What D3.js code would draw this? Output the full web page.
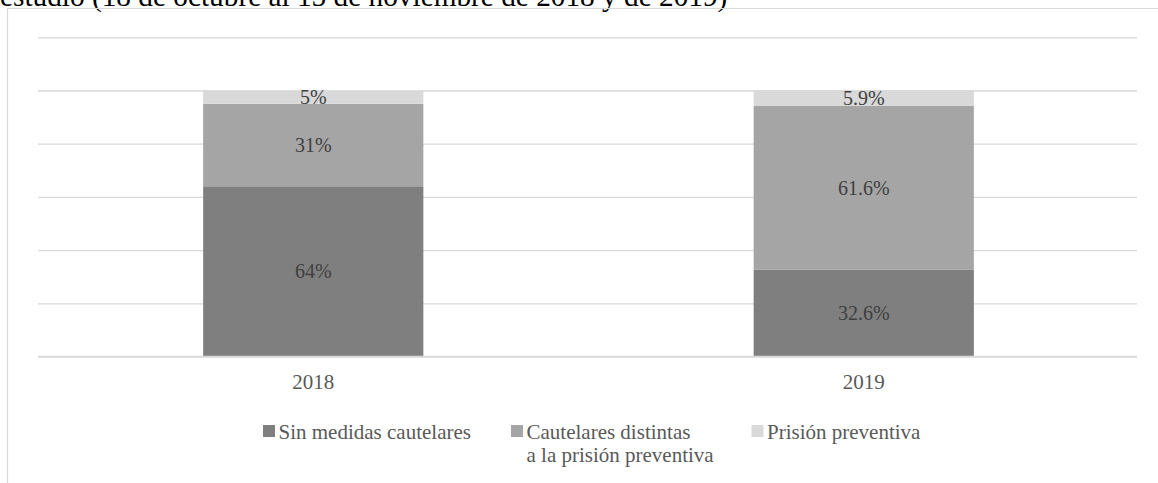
<!DOCTYPE html>
<html>
<head>
<meta charset="utf-8">
<script src="https://cdn.jsdelivr.net/npm/d3@7"></script>
<style>
  html, body { margin: 0; padding: 0; background: #fff; }
  svg { display: block; font-family: "Liberation Serif", "Times New Roman", serif; }
</style>
</head>
<body>
<svg id="chart" width="1158" height="483"></svg>
<script>
// Chart data
const years = ["2018", "2019"];
const seriesNames = ["Sin medidas cautelares", "Cautelares distintas a la prisión preventiva", "Prisión preventiva"];
const sinMedidas = [64, 32.6];
const cautelaresDistintas = [31, 61.6];
const prisionPreventiva = [5, 5.9];
const labelSin = ["64%", "32.6%"];
const labelCautelares = ["31%", "61.6%"];
const labelPrision = ["5%", "5.9%"];
const yTicks = [0, 20, 40, 60, 80, 100, 120];
const titleText = "estudio (18 de octubre al 15 de noviembre de 2018 y de 2019)";

const colors = ["#7f7f7f", "#a5a5a5", "#d9d9d9"];

const svg = d3.select("#chart");

// Title line (runs above the top of the frame)
svg.append("text")
  .attr("x", 0).attr("y", 5.5)
  .attr("font-size", 29.3)
  .attr("fill", "#000")
  .text(titleText);

// Chart frame
svg.append("line").attr("x1", 7.5).attr("x2", 1158).attr("y1", 8.5).attr("y2", 8.5)
  .attr("stroke", "#d9d9d9").attr("stroke-width", 1.2);
svg.append("line").attr("x1", 7.5).attr("x2", 7.5).attr("y1", 8.5).attr("y2", 483)
  .attr("stroke", "#d9d9d9").attr("stroke-width", 1.2);

const x = d3.scaleBand().domain(years).range([38, 1139]).paddingInner(0.6).paddingOuter(0.3);
const y = d3.scaleLinear().domain([0, 120]).range([356.5, 37.3]);

// Gridlines
svg.append("g")
  .attr("transform", "translate(38,0)")
  .call(d3.axisLeft(y).tickValues(yTicks).tickSize(-1099).tickFormat(""))
  .call(g => g.select(".domain").remove())
  .call(g => g.selectAll(".tick line").attr("stroke", "#d9d9d9").attr("stroke-width", 1.3));

// Stacked data
const rows = years.map((yr, i) => ({
  year: yr,
  s0: sinMedidas[i], s1: cautelaresDistintas[i], s2: prisionPreventiva[i],
  l0: labelSin[i], l1: labelCautelares[i], l2: labelPrision[i]
}));
const stack = d3.stack().keys(["s0", "s1", "s2"]);
const stacked = stack(rows);

stacked.forEach((layer, k) => {
  const g = svg.append("g");
  g.selectAll("rect").data(layer).join("rect")
    .attr("x", d => x(d.data.year))
    .attr("width", x.bandwidth())
    .attr("y", d => y(d[1]))
    .attr("height", d => y(d[0]) - y(d[1]))
    .attr("fill", colors[k]);
  g.selectAll("text").data(layer).join("text")
    .attr("x", d => x(d.data.year) + x.bandwidth() / 2)
    .attr("y", d => (y(d[0]) + y(d[1])) / 2)
    .attr("text-anchor", "middle")
    .attr("dominant-baseline", "central")
    .attr("font-size", 20)
    .attr("fill", "#404040")
    .text(d => d.data["l" + k]);
});

// Baseline
svg.append("line").attr("x1", 38).attr("x2", 1137).attr("y1", y(0)).attr("y2", y(0))
  .attr("stroke", "#d9d9d9").attr("stroke-width", 1.3);

// Category axis
const xAxis = svg.append("g")
  .attr("transform", `translate(0,${y(0)})`)
  .call(d3.axisBottom(x).tickSize(0).tickPadding(0));
xAxis.select(".domain").remove();
xAxis.selectAll("text")
  .attr("y", 32.5)
  .attr("dy", null)
  .attr("font-size", 21)
  .attr("font-family", "Liberation Serif, serif")
  .attr("fill", "#595959");

// Legend
const legendX = [263, 511, 751.5];
const legendLines = [["Sin medidas cautelares"], ["Cautelares distintas", "a la prisión preventiva"], ["Prisión preventiva"]];
const legend = svg.append("g");
seriesNames.forEach((name, i) => {
  const item = legend.append("g").attr("transform", `translate(${legendX[i]},0)`);
  item.append("rect").attr("x", 0).attr("y", 425).attr("width", 12).attr("height", 12).attr("fill", colors[i]);
  const t = item.append("text").attr("x", 15.5).attr("y", 438.5).attr("font-size", 21).attr("fill", "#595959");
  legendLines[i].forEach((ln, j) => {
    t.append("tspan").attr("x", 15.5).attr("dy", j === 0 ? 0 : 23.5).text(ln);
  });
});
</script>
</body>
</html>
